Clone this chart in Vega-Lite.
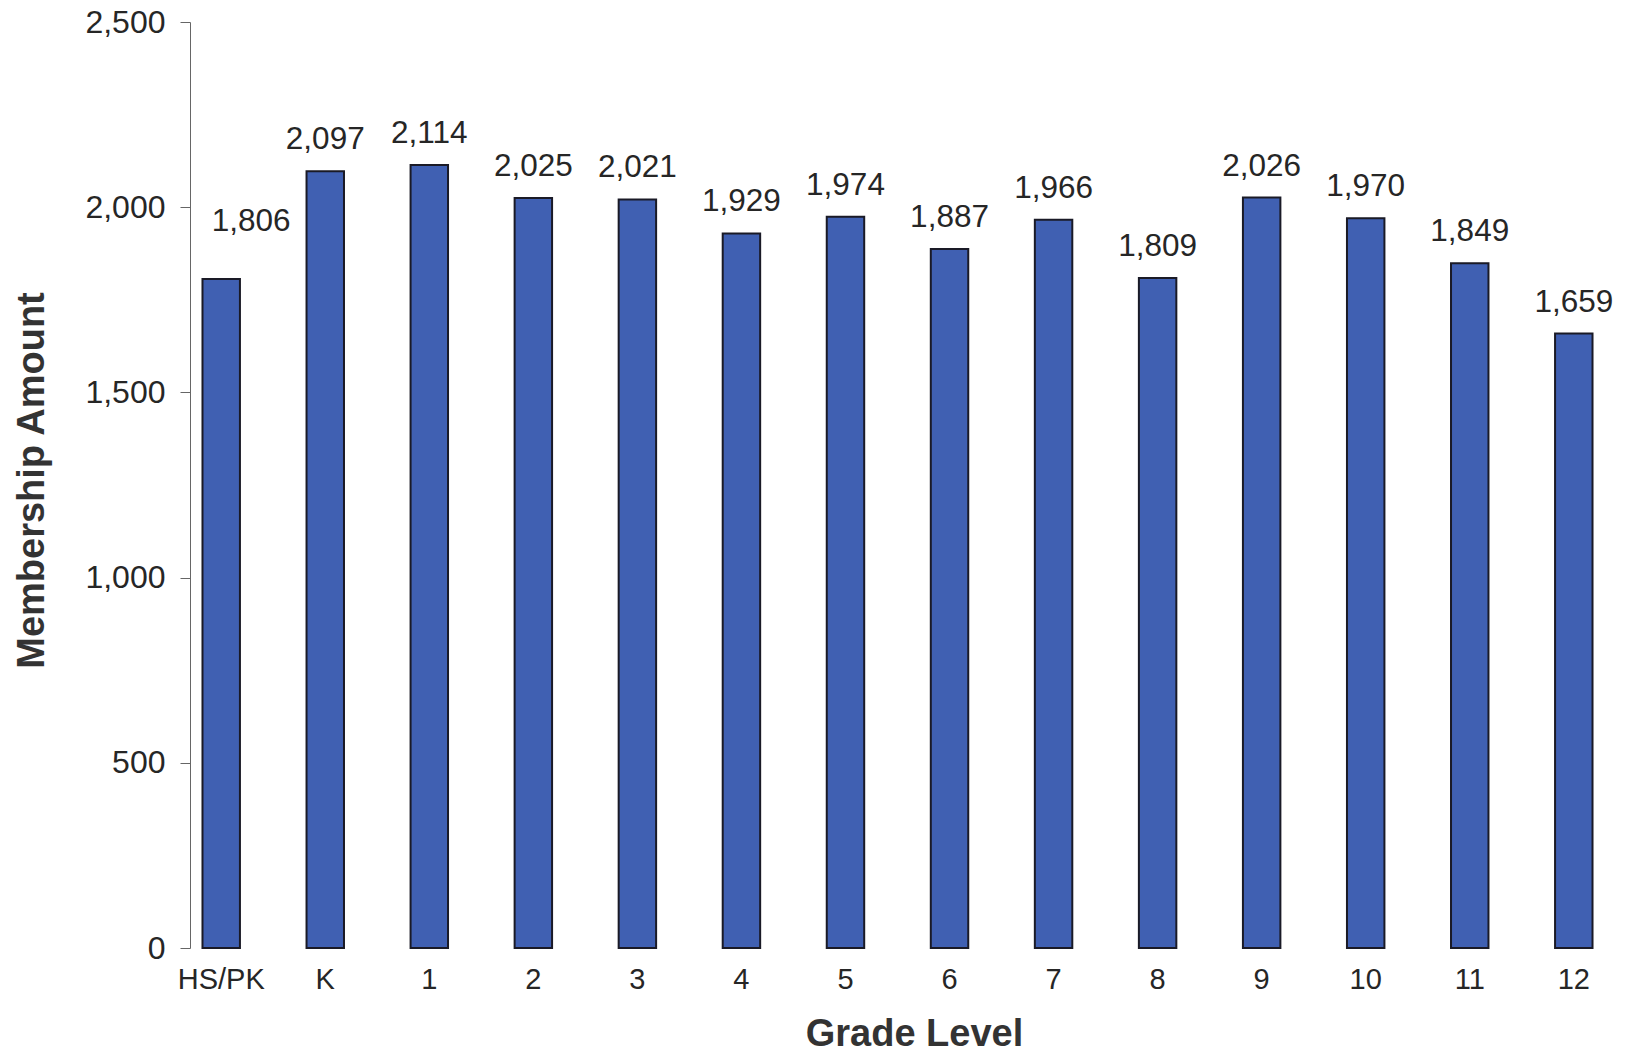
{
  "$schema": "https://vega.github.io/schema/vega-lite/v6.json",
  "autosize": "none",
  "width": 1415,
  "height": 926,
  "padding": {"left": 190, "top": 22, "right": 21, "bottom": 105},
  "background": "#ffffff",
  "config": {
    "view": {"stroke": null},
    "font": "Liberation Sans",
    "axis": {"labelFont": "Liberation Sans", "titleFont": "Liberation Sans"}
  },
  "data": {
    "values": [
      {"grade": "HS/PK", "members": 1806},
      {"grade": "K", "members": 2097},
      {"grade": "1", "members": 2114},
      {"grade": "2", "members": 2025},
      {"grade": "3", "members": 2021},
      {"grade": "4", "members": 1929},
      {"grade": "5", "members": 1974},
      {"grade": "6", "members": 1887},
      {"grade": "7", "members": 1966},
      {"grade": "8", "members": 1809},
      {"grade": "9", "members": 2026},
      {"grade": "10", "members": 1970},
      {"grade": "11", "members": 1849},
      {"grade": "12", "members": 1659}
    ]
  },
  "encoding": {
    "x": {
      "field": "grade",
      "type": "nominal",
      "sort": null,
      "scale": {"paddingInner": 0.64, "paddingOuter": 0.12},
      "axis": {
        "title": "Grade Level",
        "titleFontSize": 38,
        "titleFontWeight": "bold",
        "titleColor": "#333333",
        "titleX": 724,
        "titleY": 86,
        "titleBaseline": "middle",
        "labelAngle": 0,
        "labelFontSize": 29,
        "labelColor": "#262626",
        "labelPadding": 17,
        "ticks": false,
        "domain": false
      }
    },
    "y": {
      "field": "members",
      "type": "quantitative",
      "scale": {"domain": [0, 2500], "nice": false},
      "axis": {
        "title": "Membership Amount",
        "titleFontSize": 38,
        "titleFontWeight": "bold",
        "titleColor": "#333333",
        "titleAngle": -90,
        "titleX": -158,
        "titleY": 458,
        "titleAlign": "center",
        "titleBaseline": "middle",
        "values": [0, 500, 1000, 1500, 2000, 2500],
        "format": ",d",
        "labelFontSize": 32,
        "labelColor": "#262626",
        "labelPadding": 15,
        "tickSize": 10,
        "tickColor": "#666666",
        "domainColor": "#666666",
        "grid": false
      }
    }
  },
  "layer": [
    {
      "mark": {"type": "bar", "color": "#4060b2", "stroke": "#1a1a26", "strokeWidth": 2}
    },
    {
      "transform": [{"filter": "datum.grade !== 'HS/PK'"}],
      "mark": {"type": "text", "fontSize": 31.5, "color": "#262626", "baseline": "middle", "dy": -31},
      "encoding": {"text": {"field": "members", "type": "quantitative", "format": ",d"}}
    },
    {
      "transform": [{"filter": "datum.grade === 'HS/PK'"}],
      "mark": {"type": "text", "fontSize": 31.5, "color": "#262626", "baseline": "middle", "dy": -57, "dx": 30},
      "encoding": {"text": {"field": "members", "type": "quantitative", "format": ",d"}}
    }
  ]
}
